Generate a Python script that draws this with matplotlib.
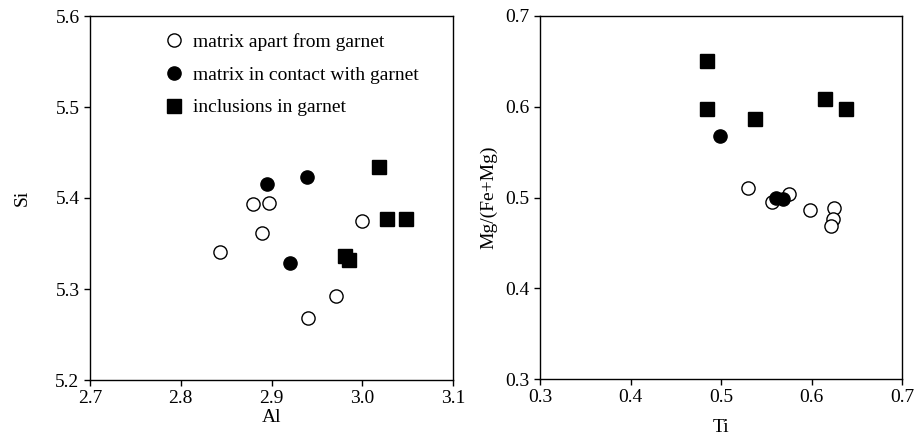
import matplotlib.pyplot as plt

plt.rcParams['font.family'] = ['Liberation Serif', 'DejaVu Serif']

# Left panel: Al vs Si
al_apart = [2.843, 2.880, 2.897, 2.889, 3.000, 2.971, 2.940]
si_apart = [5.341, 5.393, 5.395, 5.362, 5.375, 5.292, 5.268]
al_contact = [2.895, 2.939, 2.920]
si_contact = [5.415, 5.423, 5.329]
al_incl = [3.018, 3.027, 3.048, 2.981, 2.985]
si_incl = [5.434, 5.377, 5.377, 5.336, 5.332]

# Right panel: Ti vs Mg/(Fe+Mg)
ti_apart = [0.530, 0.556, 0.575, 0.598, 0.625, 0.624, 0.621]
mg_apart = [0.511, 0.495, 0.504, 0.486, 0.488, 0.476, 0.469]
ti_contact = [0.499, 0.561, 0.569]
mg_contact = [0.568, 0.500, 0.498]
ti_incl = [0.484, 0.484, 0.538, 0.615, 0.638]
mg_incl = [0.650, 0.597, 0.586, 0.608, 0.598]

labels = ["matrix apart from garnet", "matrix in contact with garnet", "inclusions in garnet"]

fig = plt.figure(figsize=(9.14, 4.43), dpi=100)
ax1 = fig.add_axes([90 / 914, 63 / 443, 363 / 914, 364 / 443])
ax2 = fig.add_axes([540 / 914, 64 / 443, 362 / 914, 363 / 443])


def draw(ax, xa, ya, xc, yc, xi, yi):
    ax.plot(xa, ya, 'o', ms=9.5, mfc='white', mec='black', mew=1.0, label=labels[0])
    ax.plot(xc, yc, 'o', ms=9.5, mfc='black', mec='black', label=labels[1])
    ax.plot(xi, yi, 's', ms=10, mfc='black', mec='black', label=labels[2])
    ax.tick_params(direction='out', length=4, width=1, labelsize=14, top=False, right=False)
    for s in ax.spines.values():
        s.set_linewidth(1.0)


draw(ax1, al_apart, si_apart, al_contact, si_contact, al_incl, si_incl)
draw(ax2, ti_apart, mg_apart, ti_contact, mg_contact, ti_incl, mg_incl)

ax1.set_xlim(2.7, 3.1)
ax1.set_ylim(5.2, 5.6)
ax1.set_xticks([2.7, 2.8, 2.9, 3.0, 3.1])
ax1.set_yticks([5.2, 5.3, 5.4, 5.5, 5.6])
ax1.set_xlabel("Al", fontsize=14, labelpad=1)
ax1.set_ylabel("Si", fontsize=14, labelpad=18)

ax2.set_xlim(0.3, 0.7)
ax2.set_ylim(0.3, 0.7)
ax2.set_xticks([0.3, 0.4, 0.5, 0.6, 0.7])
ax2.set_yticks([0.3, 0.4, 0.5, 0.6, 0.7])
ax2.set_xlabel("Ti", fontsize=14, labelpad=9)
ax2.set_ylabel("Mg/(Fe+Mg)", fontsize=14, labelpad=6)

ax1.legend(loc='upper left', bbox_to_anchor=(0.178, 0.975), frameon=False, fontsize=14,
           handletextpad=0.35, labelspacing=0.78, handlelength=1.2, borderaxespad=0)

fig.savefig("out.png", dpi=100)
